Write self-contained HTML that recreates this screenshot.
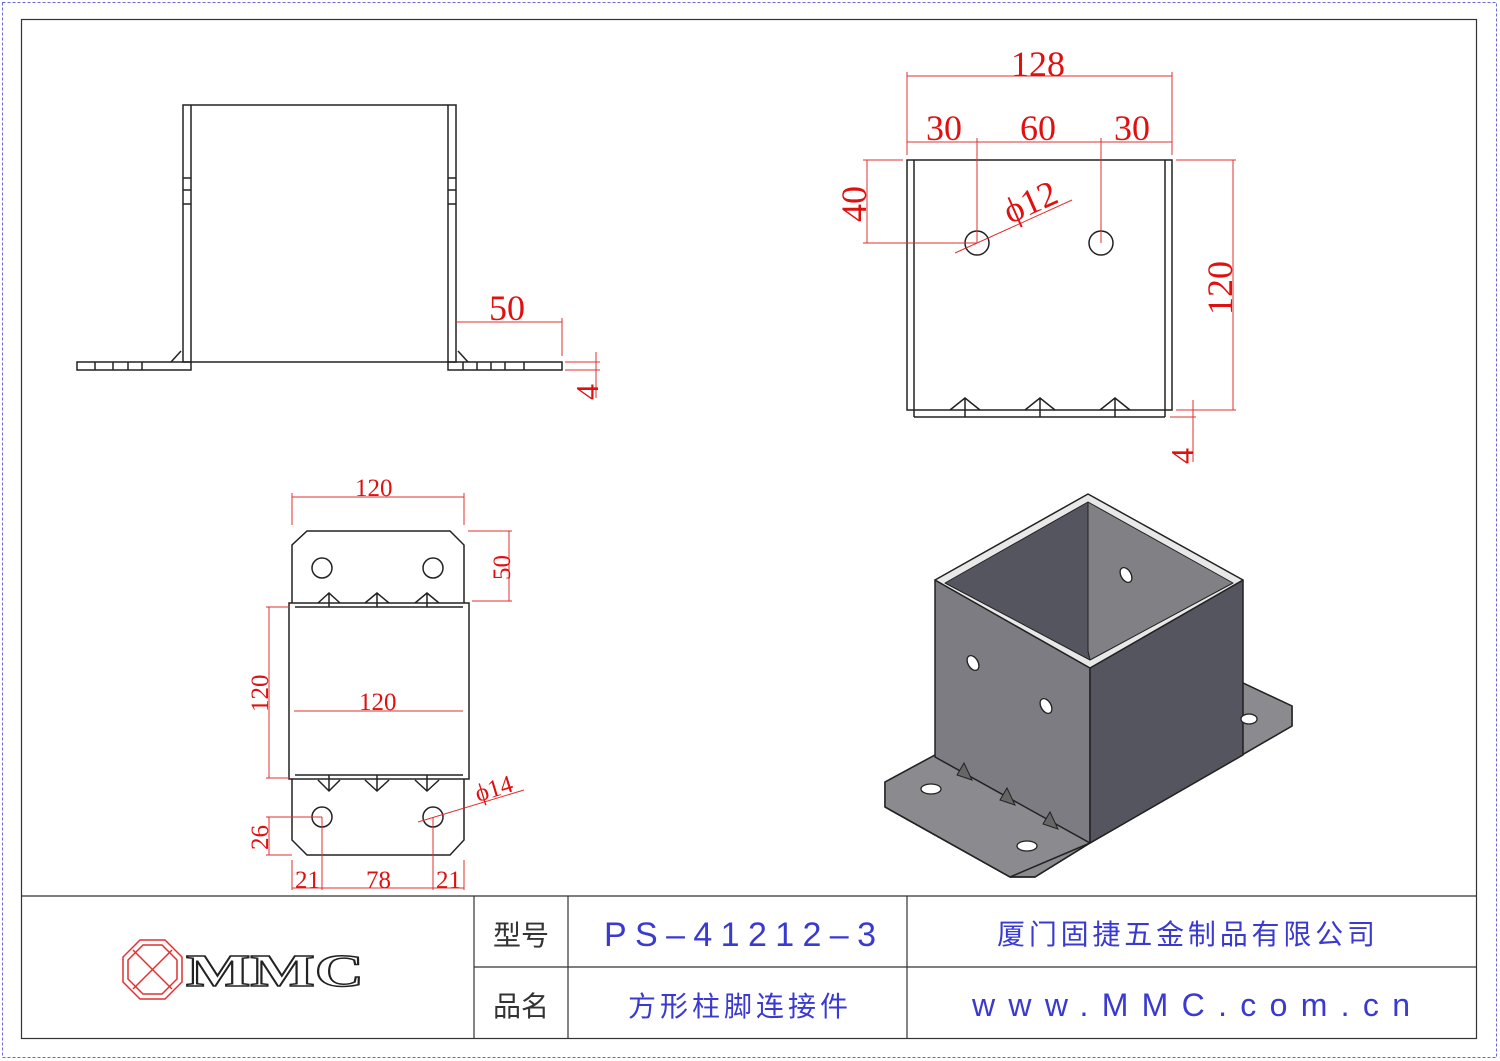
<!DOCTYPE html><html><head><meta charset="utf-8"><style>body{margin:0;background:#fff}svg{display:block}</style></head><body>
<svg width="1500" height="1061" viewBox="0 0 1500 1061" xmlns="http://www.w3.org/2000/svg" font-family="Liberation Serif, serif">
<rect x="2.5" y="2.5" width="1494" height="1055" fill="none" stroke="#6a6ad8" stroke-width="1" stroke-dasharray="3,2"/>
<rect x="21.5" y="19.5" width="1455" height="1019" fill="none" stroke="#333" stroke-width="1.2"/>
<g stroke="#333" stroke-width="1.2" fill="none">
<line x1="21" y1="896" x2="1476" y2="896"/><line x1="474" y1="896" x2="474" y2="1038"/><line x1="568" y1="896" x2="568" y2="1038"/><line x1="907" y1="896" x2="907" y2="1038"/><line x1="474" y1="967" x2="1476" y2="967"/>
</g>
<g font-family="Liberation Sans, Noto Sans CJK SC, sans-serif" font-size="28">
<text x="493" y="945" fill="#333">型号</text><text x="493" y="1016" fill="#333">品名</text>
<text x="604" y="946" fill="#3a3ad0" font-size="34" textLength="272" font-weight="300">PS–41212–3</text>
<text x="628" y="1016" fill="#3a3ad0" textLength="220">方形柱脚连接件</text>
<text x="997" y="944" fill="#3a3ad0" textLength="378">厦门固捷五金制品有限公司</text>
<text x="972" y="1016" fill="#3a3ad0" font-size="32" textLength="438">www.MMC.com.cn</text>
</g>
<g stroke="#e03030" stroke-width="1.5" fill="none"><polygon points="140,940 165,940 182,957 182,982 165,999 140,999 123,982 123,957"/><polygon points="143,945 162,945 177,960 177,979 162,994 143,994 128,979 128,960"/><line x1="133" y1="950" x2="172" y2="989"/><line x1="172" y1="950" x2="133" y2="989"/></g>
<text x="186" y="986" font-size="46" font-weight="bold" fill="#fff" stroke="#222" stroke-width="1.5" textLength="178" lengthAdjust="spacingAndGlyphs">MMC</text>
<!-- front view -->
<g stroke="#222" stroke-width="1.5" fill="none">
<rect x="183" y="105" width="273" height="257"/>
<line x1="191" y1="105" x2="191" y2="362"/><line x1="448" y1="105" x2="448" y2="362"/>
<rect x="77" y="362" width="114" height="8"/><rect x="448" y="362" width="114" height="8"/>
<line x1="95" y1="362" x2="95" y2="370"/><line x1="113" y1="362" x2="113" y2="370"/><line x1="128" y1="362" x2="128" y2="370"/><line x1="142" y1="362" x2="142" y2="370"/>
<line x1="463" y1="362" x2="463" y2="370"/><line x1="477" y1="362" x2="477" y2="370"/><line x1="491" y1="362" x2="491" y2="370"/><line x1="505" y1="362" x2="505" y2="370"/><line x1="524" y1="362" x2="524" y2="370"/>
<line x1="171" y1="362" x2="181" y2="351"/><line x1="468" y1="362" x2="458" y2="351"/>
<line x1="183" y1="178" x2="191" y2="178"/><line x1="183" y1="190" x2="191" y2="190"/><line x1="183" y1="204" x2="191" y2="204"/>
<line x1="448" y1="178" x2="456" y2="178"/><line x1="448" y1="190" x2="456" y2="190"/><line x1="448" y1="204" x2="456" y2="204"/>
</g>
<g stroke="#e03030" stroke-width="1" fill="none">
<line x1="456" y1="322" x2="562" y2="322"/><line x1="562" y1="318" x2="562" y2="356"/>
<line x1="565" y1="362" x2="600" y2="362"/><line x1="565" y1="370" x2="600" y2="370"/><line x1="596" y1="352" x2="596" y2="398"/>
</g>
<g fill="#e01010" font-size="36"><text x="489" y="320">50</text><text transform="translate(598,400) rotate(-90)" font-size="32">4</text></g>
<!-- side view -->
<g stroke="#222" stroke-width="1.5" fill="none">
<rect x="907" y="160" width="265" height="250"/><line x1="914" y1="160" x2="914" y2="417"/><line x1="1165" y1="160" x2="1165" y2="417"/><line x1="914" y1="417" x2="1165" y2="417"/>
<circle cx="977" cy="243" r="12"/><circle cx="1101" cy="243" r="12"/>
<path d="M950 410 L965 398 L980 410 M1025 410 L1040 398 L1055 410 M1100 410 L1115 398 L1130 410 M965 398 V417 M1040 398 V417 M1115 398 V417"/>
</g>
<g stroke="#e03030" stroke-width="1" fill="none">
<line x1="907" y1="76" x2="1172" y2="76"/><line x1="907" y1="72" x2="907" y2="155"/><line x1="1172" y1="72" x2="1172" y2="155"/>
<line x1="907" y1="142" x2="1172" y2="142"/><line x1="977" y1="138" x2="977" y2="243"/><line x1="1101" y1="138" x2="1101" y2="243"/>
<line x1="863" y1="160" x2="903" y2="160"/><line x1="863" y1="243" x2="977" y2="243"/><line x1="867" y1="160" x2="867" y2="243"/>
<line x1="1176" y1="160" x2="1236" y2="160"/><line x1="1176" y1="410" x2="1236" y2="410"/><line x1="1233" y1="160" x2="1233" y2="410"/>
<line x1="1170" y1="417" x2="1196" y2="417"/><line x1="1193" y1="400" x2="1193" y2="462"/>
<line x1="955" y1="253" x2="1072" y2="200"/>
</g>
<g fill="#e01010" font-size="36"><text x="1011" y="76">128</text><text x="926" y="140">30</text><text x="1020" y="140">60</text><text x="1114" y="140">30</text>
<text transform="translate(866,222) rotate(-90)">40</text><text transform="translate(1232,315) rotate(-90)">120</text><text transform="translate(1193,464) rotate(-90)" font-size="32">4</text>
<text transform="translate(1010,224) rotate(-24)">ϕ12</text></g>
<!-- top view -->
<g stroke="#222" stroke-width="1.5" fill="none">
<polygon points="307,531 450,531 464,545 464,840 450,855 307,855 292,840 292,545"/>
<rect x="289" y="603" width="180" height="176" fill="#fff"/><line x1="295" y1="607" x2="463" y2="607"/><line x1="295" y1="775" x2="463" y2="775"/>
<circle cx="322" cy="568" r="10"/><circle cx="433" cy="568" r="10"/><circle cx="322" cy="817" r="10"/><circle cx="433" cy="817" r="10"/>
<path d="M318 603 L329 593 L340 603 M365 603 L377 593 L389 603 M415 603 L427 593 L439 603 M318 780 L329 791 L340 780 M365 780 L377 791 L389 780 M415 780 L427 791 L439 780 M329 593 V607 M377 593 V607 M427 593 V607 M329 775 V791 M377 775 V791 M427 775 V791"/>
</g>
<g stroke="#e03030" stroke-width="1" fill="none">
<line x1="292" y1="497" x2="464" y2="497"/><line x1="292" y1="493" x2="292" y2="525"/><line x1="464" y1="493" x2="464" y2="525"/>
<line x1="468" y1="531" x2="512" y2="531"/><line x1="472" y1="601" x2="512" y2="601"/><line x1="509" y1="531" x2="509" y2="601"/>
<line x1="266" y1="607" x2="289" y2="607"/><line x1="266" y1="778" x2="289" y2="778"/><line x1="269" y1="607" x2="269" y2="778"/>
<line x1="294" y1="711" x2="463" y2="711"/>
<line x1="266" y1="817" x2="322" y2="817"/><line x1="266" y1="855" x2="292" y2="855"/><line x1="269" y1="817" x2="269" y2="855"/>
<line x1="292" y1="860" x2="292" y2="890"/><line x1="322" y1="817" x2="322" y2="890"/><line x1="433" y1="817" x2="433" y2="890"/><line x1="464" y1="860" x2="464" y2="890"/><line x1="292" y1="888" x2="464" y2="888"/>
<line x1="418" y1="822" x2="524" y2="790"/>
</g>
<g fill="#e01010" font-size="25"><text x="355" y="496">120</text><text x="359" y="710">120</text><text transform="translate(510,580) rotate(-90)">50</text><text transform="translate(268,712) rotate(-90)">120</text><text transform="translate(268,850) rotate(-90)">26</text>
<text x="295" y="888">21</text><text x="366" y="888">78</text><text x="436" y="888">21</text><text transform="translate(478,802) rotate(-17)">ϕ14</text></g>
<!-- iso -->
<g stroke="#222" stroke-width="1.5" stroke-linejoin="round">
<polygon points="885,782 935,755 1243,683 1292,706 1292,726 1090,843 1035,877 1010,877 885,807" fill="#8b8b8f"/>
<polygon points="885,782 935,755 1090,843 1010,877 885,807" fill="#8b8b8f"/>
<polygon points="1243,683 1292,706 1292,726 1090,843" fill="#8b8b8f"/>
<polygon points="935,580 1090,668 1090,843 935,757" fill="#7c7c82"/>
<polygon points="1090,668 1243,580 1243,755 1090,843" fill="#555560"/>
<polygon points="935,580 1088,494 1243,580 1090,668" fill="#e8e8e8"/>
<polygon points="945,583 1088,502 1088,651 1090,660" fill="#555560" stroke-width="1"/>
<polygon points="1088,502 1233,583 1090,660 1088,651" fill="#808085" stroke-width="1"/>
<polyline points="885,807 1010,877 1035,877 1090,843" fill="none"/>
</g>
<g fill="#fff" stroke="#222" stroke-width="1.3">
<ellipse cx="1126" cy="575" rx="5" ry="8" transform="rotate(-30 1126 575)"/><ellipse cx="973" cy="663" rx="5" ry="8" transform="rotate(-30 973 663)"/><ellipse cx="1046" cy="706" rx="5" ry="8" transform="rotate(-30 1046 706)"/>
<ellipse cx="931" cy="789" rx="10" ry="5"/><ellipse cx="1027" cy="846" rx="10" ry="5"/><ellipse cx="1249" cy="719" rx="8" ry="5"/>
</g>
<g fill="#666" stroke="#222"><polygon points="957,775 964,763 972,780"/><polygon points="1000,800 1007,788 1015,805"/><polygon points="1043,824 1050,812 1058,829"/></g>
</svg></body></html>
